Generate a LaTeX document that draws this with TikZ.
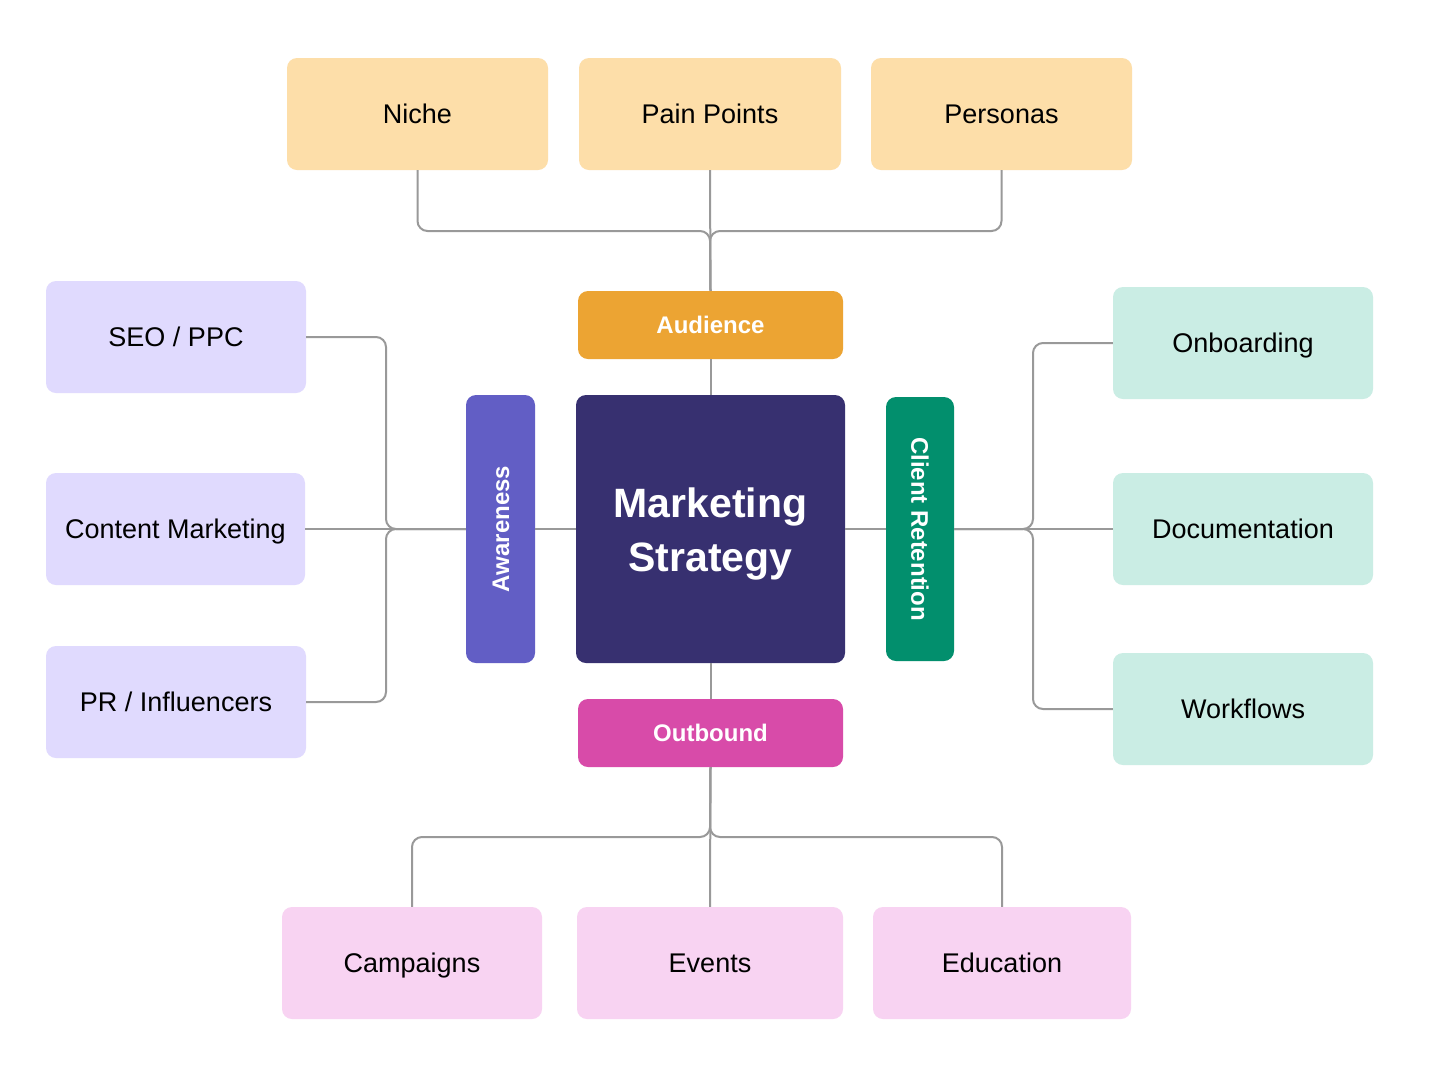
\documentclass[tikz,border=0pt]{standalone}
\usepackage{fontspec}
\setmainfont{Liberation Sans}
\definecolor{peach}{HTML}{FDDEA9}
\definecolor{audc}{HTML}{ECA433}
\definecolor{centc}{HTML}{373070}
\definecolor{awac}{HTML}{625EC5}
\definecolor{clic}{HTML}{028F6D}
\definecolor{outc}{HTML}{D84BA9}
\definecolor{lav}{HTML}{E0DAFE}
\definecolor{mint}{HTML}{CAEDE4}
\definecolor{pinkc}{HTML}{F8D3F2}
\definecolor{linec}{HTML}{999999}
\begin{document}
\begin{tikzpicture}[x=1pt,y=-1pt,
  box/.style={rectangle,rounded corners=10pt,inner sep=0pt,align=center,draw=none},
  leaf/.style={box,minimum height=112pt,text=black,font=\fontsize{27}{32}\selectfont,text height=19.5pt,text depth=1pt},
  hub/.style={box,text=white,font=\fontsize{24}{29}\selectfont\bfseries,text height=17.2pt,text depth=0pt},
  conn/.style={draw=linec,line width=2pt,rounded corners=10pt}]
\fill[white] (0,0) rectangle (1430,1080);
\useasboundingbox (0,0) rectangle (1430,1080);
% top leaves
\node[leaf,fill=peach,minimum width=261pt] (niche) at (417.5,114) {Niche};
\node[leaf,fill=peach,minimum width=262pt] (pain) at (710,114) {Pain Points};
\node[leaf,fill=peach,minimum width=261pt] (personas) at (1001.5,114) {Personas};
% hubs
\node[hub,fill=audc,minimum width=265pt,minimum height=68pt] (audience) at (710.5,325) {Audience};
\node[box,fill=centc,minimum width=269pt,minimum height=268pt] (central) at (710.5,529) {};
\node[text=white,align=center,font=\fontsize{41}{54}\selectfont\bfseries] (centtext) at (710.5,534) {Marketing\\Strategy};
\node[box,fill=awac,minimum width=69pt,minimum height=268pt] (awareness) at (500.5,529) {};
\node[hub,rotate=90] (awtext) at (awareness.center) {Awareness};
\node[box,fill=clic,minimum width=68pt,minimum height=264pt] (client) at (920,529) {};
\node[hub,rotate=-90] (cltext) at (client.center) {Client Retention};
\node[hub,fill=outc,minimum width=265pt,minimum height=68pt] (outbound) at (710.5,733) {Outbound};
% left leaves
\node[leaf,fill=lav,minimum width=260pt] (seo) at (176,337) {SEO / PPC};
\node[leaf,fill=lav,minimum width=259pt] (content) at (175.5,529) {Content Marketing};
\node[leaf,fill=lav,minimum width=260pt] (pr) at (176,702) {PR / Influencers};
% right leaves
\node[leaf,fill=mint,minimum width=260pt] (onboarding) at (1243,343) {Onboarding};
\node[leaf,fill=mint,minimum width=260pt] (docs) at (1243,529) {Documentation};
\node[leaf,fill=mint,minimum width=260pt] (workflows) at (1243,709) {Workflows};
% bottom leaves
\node[leaf,fill=pinkc,minimum width=260pt] (campaigns) at (412,963) {Campaigns};
\node[leaf,fill=pinkc,minimum width=266pt] (events) at (710,963) {Events};
\node[leaf,fill=pinkc,minimum width=258pt] (education) at (1002,963) {Education};
% junctions
\coordinate (jt) at (710,231);
\coordinate (jl) at (386,529);
\coordinate (jr) at (1033,529);
\coordinate (jb) at (710,837);
% connectors
\draw[conn] (niche.south) |- (jt) -- (audience.north);
\draw[conn] (personas.south) |- (jt) -- (audience.north);
\draw[conn] (pain.south) -- (audience.north);
\draw[conn] (audience.south) -- (central.north);
\draw[conn] (central.south) -- (outbound.north);
\draw[conn] (awareness.east) -- (central.west);
\draw[conn] (central.east) -- (client.west);
\draw[conn] (seo.east) -| (jl) -- (awareness.west);
\draw[conn] (pr.east) -| (jl) -- (awareness.west);
\draw[conn] (content.east) -- (awareness.west);
\draw[conn] (onboarding.west) -| (jr) -- (client.east);
\draw[conn] (workflows.west) -| (jr) -- (client.east);
\draw[conn] (docs.west) -- (client.east);
\draw[conn] (campaigns.north) |- (jb) -- (outbound.south);
\draw[conn] (education.north) |- (jb) -- (outbound.south);
\draw[conn] (events.north) -- (outbound.south);
\end{tikzpicture}
\end{document}
